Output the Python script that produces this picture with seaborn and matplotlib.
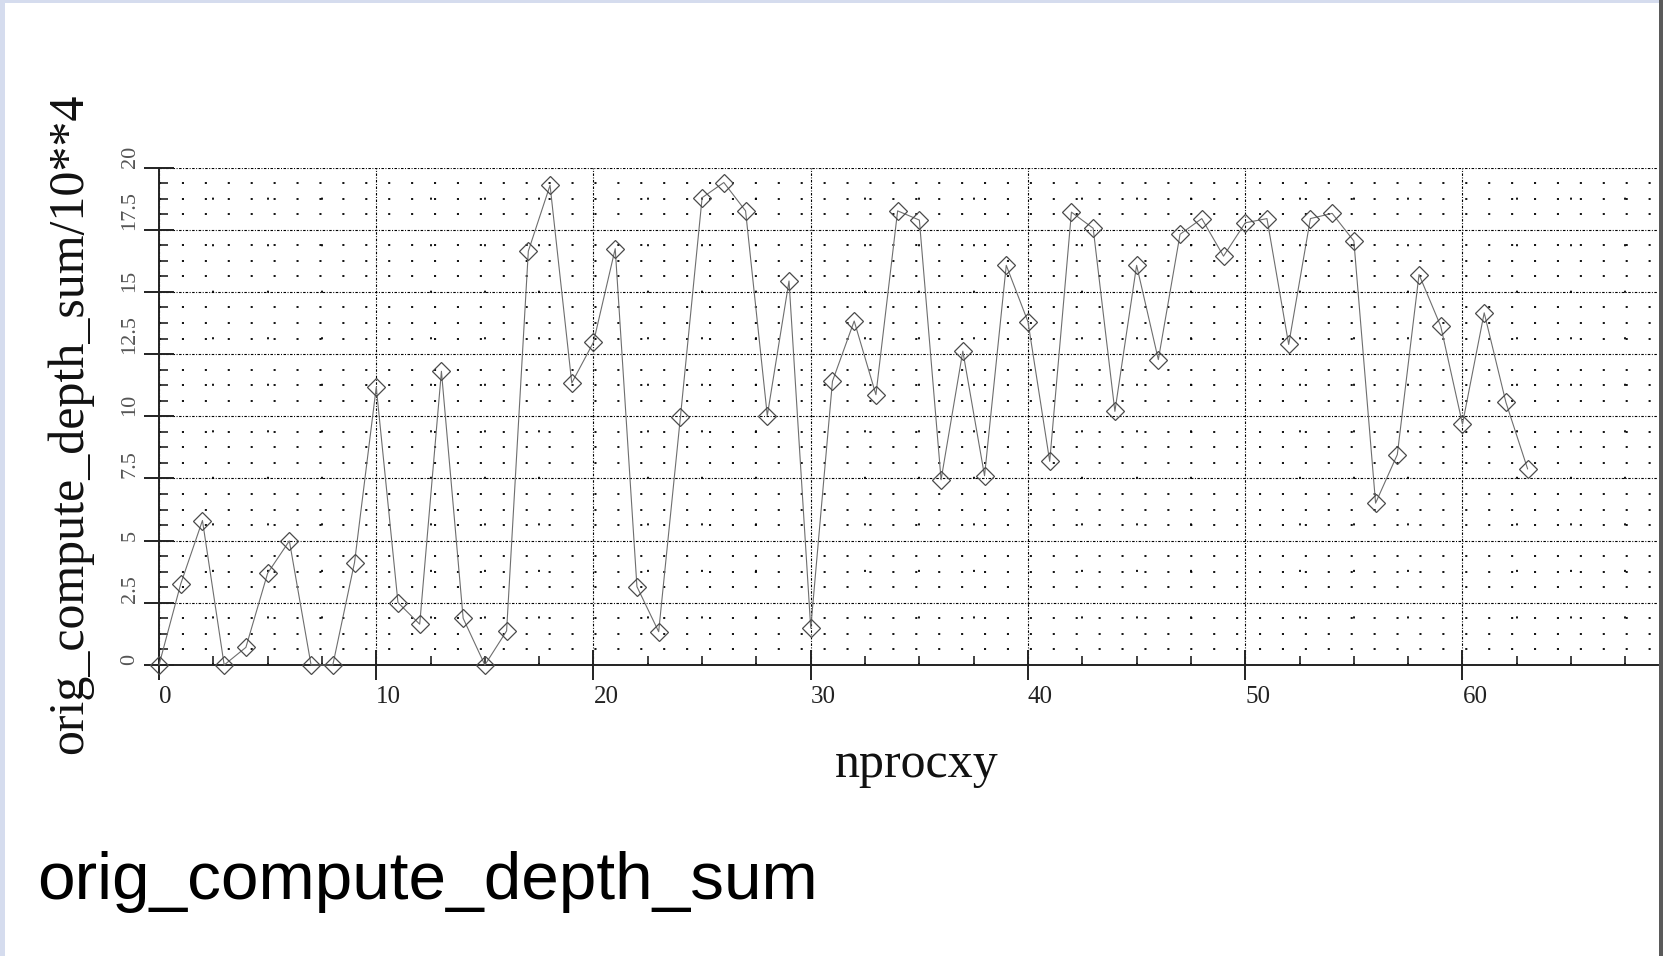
import matplotlib
matplotlib.use("Agg")
import matplotlib.pyplot as plt
import numpy as np
import pandas as pd
import seaborn as sns
from matplotlib.ticker import FixedLocator, MultipleLocator
from matplotlib.patches import Rectangle

# ---------------- data ----------------
nprocxy = list(range(64))
depth_sum = [0.0, 3.26, 5.81, 0.0, 0.71, 3.69, 4.99, 0.0, 0.0, 4.12,
             11.17, 2.51, 1.64, 11.81, 1.88, 0.0, 1.37, 16.64, 19.29, 11.34,
             12.98, 16.74, 3.15, 1.34, 9.96, 18.79, 19.40, 18.26, 10.03, 15.44,
             1.48, 11.41, 13.83, 10.87, 18.26, 17.89, 7.45, 12.62, 7.61, 16.07,
             13.80, 8.19, 18.21, 17.56, 10.20, 16.07, 12.28, 17.32, 17.95, 16.44,
             17.78, 17.95, 12.89, 17.95, 18.16, 17.05, 6.51, 8.46, 15.70, 13.62,
             9.69, 14.16, 10.56, 7.88]
xticks = [0, 10, 20, 30, 40, 50, 60]
xtick_labels = ["0", "10", "20", "30", "40", "50", "60"]
yticks = [0, 2.5, 5, 7.5, 10, 12.5, 15, 17.5, 20]
ytick_labels = ["0", "2.5", "5", "7.5", "10", "12.5", "15", "17.5", "20"]
x_label = "nprocxy"
y_label = "orig_compute_depth_sum/10**4"
title = "orig_compute_depth_sum"

# ---------------- style ----------------
sns.set_style("white")
plt.rcParams['font.family'] = ['Liberation Serif', 'DejaVu Serif']
plt.rcParams['lines.scale_dashes'] = False

W, H = 1663, 956
fig = plt.figure(figsize=(W / 100, H / 100), dpi=100)
fig.patch.set_facecolor("white")

ax = fig.add_axes([159 / W, 1 - 665 / H, (1658 - 159) / W, (665 - 167.6) / H])
ax.set_facecolor("white")

df = pd.DataFrame({"nprocxy": nprocxy, "value": depth_sum})
sns.lineplot(data=df, x="nprocxy", y="value", ax=ax, color="#6e6e6e",
             linewidth=0.8, marker="D", markersize=9.2,
             markerfacecolor="none", markeredgecolor="#4a4a4a",
             markeredgewidth=0.9)
for ln in ax.lines:
    ln.set_clip_on(False)
    ln.set_zorder(5)

ax.set_xlim(0, 69)
ax.set_ylim(0, 20)

ax.xaxis.set_major_locator(FixedLocator(xticks))
ax.set_xticklabels(xtick_labels)
ax.xaxis.set_minor_locator(MultipleLocator(2.5))
ax.yaxis.set_major_locator(FixedLocator(yticks))
ax.set_yticklabels(ytick_labels)
ax.yaxis.set_minor_locator(MultipleLocator(0.625))

ax.tick_params(which='major', direction='inout', length=22, width=1.4,
               color='#222222', left=True, bottom=True)
ax.tick_params(which='minor', direction='in', length=6.5, width=1.2,
               color='#222222', left=True, bottom=True)
ax.tick_params(axis='x', which='major', labelsize=18, pad=4,
               labelcolor='#222222')
ax.tick_params(axis='y', which='major', labelsize=16, pad=3,
               labelcolor='#555555', labelrotation=90)
for t in ax.get_xticklabels():
    t.set_ha('left')
for t in ax.get_yticklabels():
    t.set_va('bottom')

# grid
ax.grid(which='major', axis='both', color='black', linewidth=0.8,
        linestyle=(0, (1.8, 1.1, 0.7, 1.1)))
ax.grid(which='minor', axis='y', color='black', linewidth=1.3,
        linestyle=(0, (1.5, 15)))
ax.grid(which='minor', axis='x', color='black', linewidth=1.3,
        linestyle=(0, (1.5, 32)))
ax.set_axisbelow(True)

for s in ['top', 'right']:
    ax.spines[s].set_visible(False)
for s in ['left', 'bottom']:
    ax.spines[s].set_linewidth(1.4)
    ax.spines[s].set_color('#222222')

ax.set_xlabel("")
ax.set_ylabel("")

fig.text(70 / W, 1 - 424 / H, y_label, rotation=90, ha='center',
         va='center', fontsize=36, color='#111111')
fig.text(917 / W, 1 - 776.7 / H, x_label, ha='center', va='baseline',
         fontsize=36, color='#111111')
fig.text(37 / W, 1 - 899 / H, title, ha='left', va='baseline', fontsize=48.6,
         color='black', family=['Liberation Sans', 'DejaVu Sans'])

# slide frame decorations
fig.add_artist(Rectangle((0, 0), 5 / W, 1, transform=fig.transFigure,
                         facecolor='#d5dcee', edgecolor='none', zorder=0))
fig.add_artist(Rectangle((0, 1 - 3 / H), 1, 3 / H, transform=fig.transFigure,
                         facecolor='#d5dcee', edgecolor='none', zorder=0))
fig.add_artist(Rectangle((1659 / W, 0), 4 / W, 1, transform=fig.transFigure,
                         facecolor='#5a5a5a', edgecolor='none', zorder=0))

fig.savefig("out.png", dpi=100, facecolor="white")
